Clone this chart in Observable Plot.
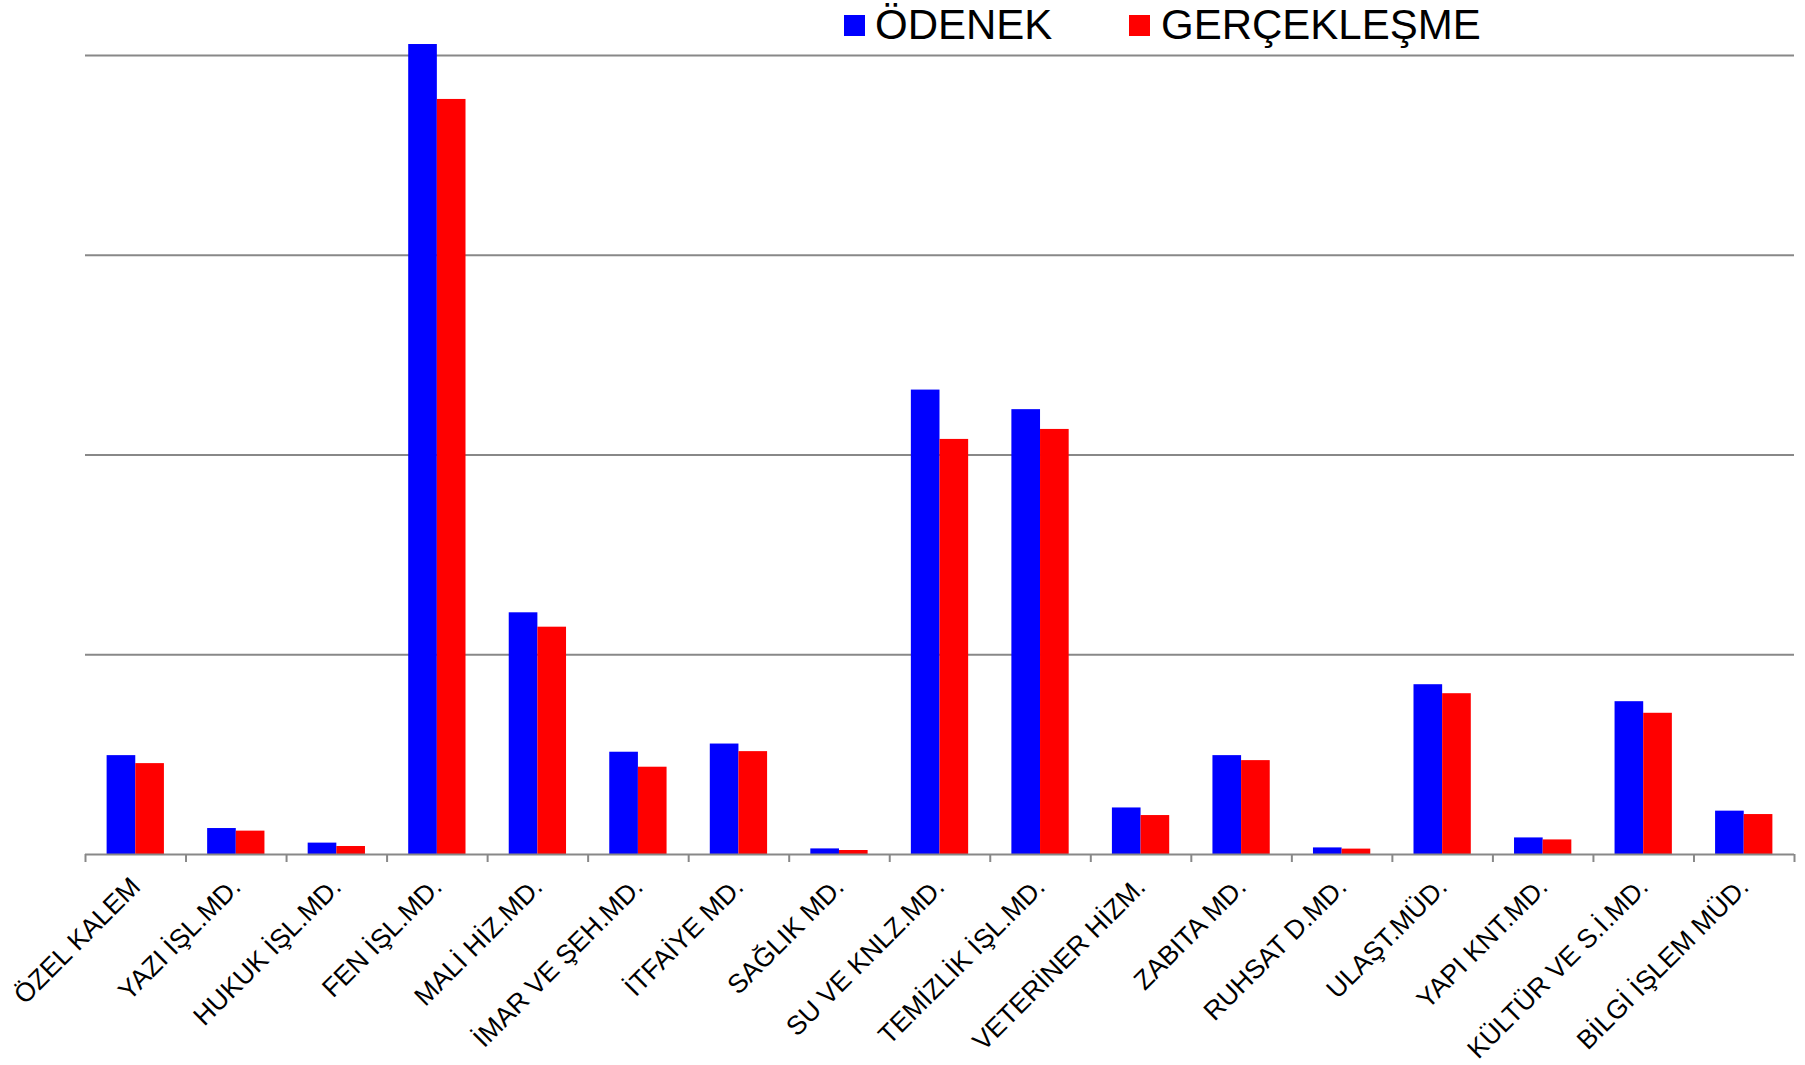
<!DOCTYPE html>
<html>
<head>
<meta charset="utf-8">
<script src="https://cdn.jsdelivr.net/npm/d3@7"></script>
<script src="https://cdn.jsdelivr.net/npm/@observablehq/plot@0.6"></script>
<style>
  html, body { margin: 0; padding: 0; background: #fff; }
  #wrap { position: relative; width: 1805px; height: 1065px; font-family: "Liberation Sans", Arial, sans-serif; }
  #legend { position: absolute; left: 0; top: 0; width: 1805px; height: 50px; pointer-events: none; }
  .sw { position: absolute; top: 15px; width: 21px; height: 21px; }
  .lt { position: absolute; top: 0px; font-size: 42px; line-height: 50px; color: #000; white-space: nowrap; }
</style>
</head>
<body>
<div id="wrap">
  <div id="chart"></div>
  <div id="legend"></div>
</div>
<script>
const categories = ["ÖZEL KALEM","YAZI İŞL.MD.","HUKUK İŞL.MD.","FEN İŞL.MD.","MALİ HİZ.MD.","İMAR VE ŞEH.MD.","İTFAİYE MD.","SAĞLIK MD.","SU VE KNLZ.MD.","TEMİZLİK İŞL.MD.","VETERİNER HİZM.","ZABITA MD.","RUHSAT D.MD.","ULAŞT.MÜD.","YAPI KNT.MD.","KÜLTÜR VE S.İ.MD.","BİLGİ İŞLEM MÜD."];
const seriesNames = ["ÖDENEK", "GERÇEKLEŞME"];
const seriesColors = ["#0000ff", "#ff0000"];
const odenek      = [4.95, 1.30, 0.57, 40.55, 12.10, 5.12, 5.53, 0.28, 23.25, 22.27, 2.33, 4.95, 0.33, 8.50, 0.83, 7.65, 2.17];
const gerceklesme = [4.55, 1.17, 0.40, 37.80, 11.38, 4.37, 5.15, 0.20, 20.78, 21.28, 1.95, 4.70, 0.27, 8.05, 0.73, 7.07, 2.00];
const gridValues = [10, 20, 30, 40];

const seriesValues = [odenek, gerceklesme];
const rows = [];
categories.forEach((c, i) => {
  seriesValues.forEach((vals, s) => rows.push({i, category: c, s, series: seriesNames[s], value: vals[i]}));
});

const groupStart = 0.215, barFrac = 0.285;

const chart = Plot.plot({
  width: 1805,
  height: 1065,
  marginTop: 55,
  marginBottom: 211,
  marginLeft: 85,
  marginRight: 11,
  style: {fontFamily: "'Liberation Sans', Arial, sans-serif", background: "#fff", overflow: "visible"},
  x: {type: "linear", domain: [0, categories.length], axis: null},
  y: {domain: [0, 40], axis: null},
  color: {domain: seriesNames, range: seriesColors},
  marks: [
    Plot.ruleY(gridValues, {stroke: "#888", strokeWidth: 1.8}),
    Plot.rectY(rows, {
      x1: d => d.i + groupStart + d.s * barFrac,
      x2: d => d.i + groupStart + (d.s + 1) * barFrac,
      y1: 0,
      y2: "value",
      fill: "series"
    }),
    Plot.ruleY([0], {stroke: "#888", strokeWidth: 2}),
    Plot.axisX({ticks: d3.range(categories.length + 1), tickSize: 8, tickFormat: () => "", stroke: "#888", strokeWidth: 2}),
    Plot.text(categories, {
      x: (d, i) => i + 0.5,
      frameAnchor: "bottom",
      text: d => d,
      rotate: -45,
      textAnchor: "end",
      lineAnchor: "bottom",
      dx: 6,
      dy: 34,
      fontSize: 26.5,
      fill: "#000"
    })
  ]
});
document.getElementById("chart").appendChild(chart);

// Legend
const legend = document.getElementById("legend");
const legendItems = [
  {name: seriesNames[0], color: seriesColors[0], sw: 844, tx: 875},
  {name: seriesNames[1], color: seriesColors[1], sw: 1129, tx: 1161}
];
legendItems.forEach(it => {
  const sq = document.createElement("div");
  sq.className = "sw";
  sq.style.left = it.sw + "px";
  sq.style.background = it.color;
  legend.appendChild(sq);
  const t = document.createElement("div");
  t.className = "lt";
  t.style.left = it.tx + "px";
  t.textContent = it.name;
  legend.appendChild(t);
});
</script>
</body>
</html>
